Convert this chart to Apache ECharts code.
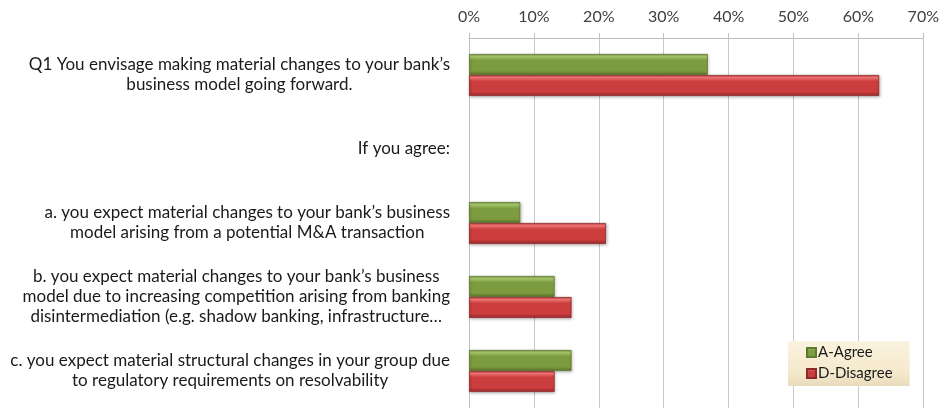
<!DOCTYPE html>
<html>
<head>
<meta charset="utf-8">
<script src="https://cdn.jsdelivr.net/npm/echarts@6/dist/echarts.min.js"></script>
<style>
  html, body { margin: 0; padding: 0; background: #ffffff; }
  #chart { width: 942px; height: 408px; }
</style>
</head>
<body>
<div id="chart"></div>
<script>
// Survey questions (top to bottom)
var categories = [
  'Q1 You envisage making material changes to your bank\u2019s\nbusiness model going forward.',
  'If you agree:',
  'a. you expect material changes to your bank\u2019s business\nmodel arising from a potential M&A transaction',
  'b. you expect material changes to your bank\u2019s business\nmodel due to increasing competition arising from banking\ndisintermediation (e.g. shadow banking, infrastructure\u2026',
  'c. you expect material structural changes in your group due\nto regulatory requirements on resolvability'
];

// Share of respondents, percent
var agreeValues = [36.8, null, 7.9, 13.2, 15.8];
var disagreeValues = [63.2, null, 21.1, 15.8, 13.2];

var seriesNames = ['A-Agree', 'D-Disagree'];
var xTicks = { min: 0, max: 70, interval: 10 };

var FONT = 'Lato, "Open Sans", sans-serif';

function barGradient(light, mid, dark) {
  return {
    type: 'linear', x: 0, y: 0, x2: 0, y2: 1,
    colorStops: [
      { offset: 0, color: mid },
      { offset: 0.12, color: light },
      { offset: 0.3, color: mid },
      { offset: 0.8, color: mid },
      { offset: 1, color: dark }
    ]
  };
}

var chart = echarts.init(document.getElementById('chart'), null, { renderer: 'canvas' });

chart.setOption({
  animation: false,
  backgroundColor: '#ffffff',
  textStyle: { fontFamily: FONT },
  grid: { left: 469, right: 14, top: 38, height: 373, containLabel: false },
  xAxis: {
    type: 'value',
    position: 'top',
    min: xTicks.min,
    max: xTicks.max,
    interval: xTicks.interval,
    axisLine: { show: true, lineStyle: { color: '#bfbfbf', width: 1 } },
    axisTick: { show: true, length: 5, lineStyle: { color: '#bfbfbf' } },
    splitLine: { show: true, lineStyle: { color: '#c8c8c8', width: 1 } },
    axisLabel: {
      margin: 13,
      color: '#404040',
      fontSize: 16,
      fontFamily: FONT,
      formatter: function (v) { return v + '%'; }
    }
  },
  yAxis: {
    type: 'category',
    inverse: true,
    data: categories,
    axisLine: { show: true, lineStyle: { color: '#bfbfbf' } },
    axisTick: { show: false },
    axisLabel: {
      margin: 19,
      color: '#1a1a1a',
      fontSize: 17,
      fontFamily: FONT,
      lineHeight: 20,
      formatter: function (v) {
        return v.split('\n').map(function (l) { return '{c|' + l + '}'; }).join('\n');
      },
      rich: {
        c: { align: 'center', fontSize: 17, lineHeight: 20, color: '#1a1a1a', fontFamily: FONT }
      }
    }
  },
  legend: {
    orient: 'vertical',
    left: 788,
    top: 341,
    padding: [4, 17, 5, 18],
    itemGap: 6,
    itemWidth: 9,
    itemHeight: 9,
    icon: 'rect',
    backgroundColor: {
      type: 'linear', x: 0, y: 0, x2: 0, y2: 1,
      colorStops: [
        { offset: 0, color: '#fbf3df' },
        { offset: 0.7, color: '#f5e9cc' },
        { offset: 1, color: '#e9dcbc' }
      ]
    },
    textStyle: { fontSize: 15, color: '#1a1a1a', fontFamily: FONT, padding: [0, 0, 0, -3] },
    data: seriesNames
  },
  series: [
    {
      name: seriesNames[0],
      type: 'bar',
      data: agreeValues,
      barWidth: 21,
      barGap: '0%',
      itemStyle: {
        color: barGradient('#a8c96c', '#7d9c40', '#5a7428'),
        borderColor: '#5e7a2e',
        borderWidth: 0.8,
        shadowColor: 'rgba(0,0,0,0.25)',
        shadowBlur: 3,
        shadowOffsetX: 1,
        shadowOffsetY: 1
      }
    },
    {
      name: seriesNames[1],
      type: 'bar',
      data: disagreeValues,
      barWidth: 21,
      barGap: '0%',
      itemStyle: {
        color: barGradient('#f27675', '#cc3d3e', '#962729'),
        borderColor: '#8f2a2b',
        borderWidth: 0.8,
        shadowColor: 'rgba(0,0,0,0.25)',
        shadowBlur: 3,
        shadowOffsetX: 1,
        shadowOffsetY: 1
      }
    }
  ]
});
</script>
</body>
</html>
